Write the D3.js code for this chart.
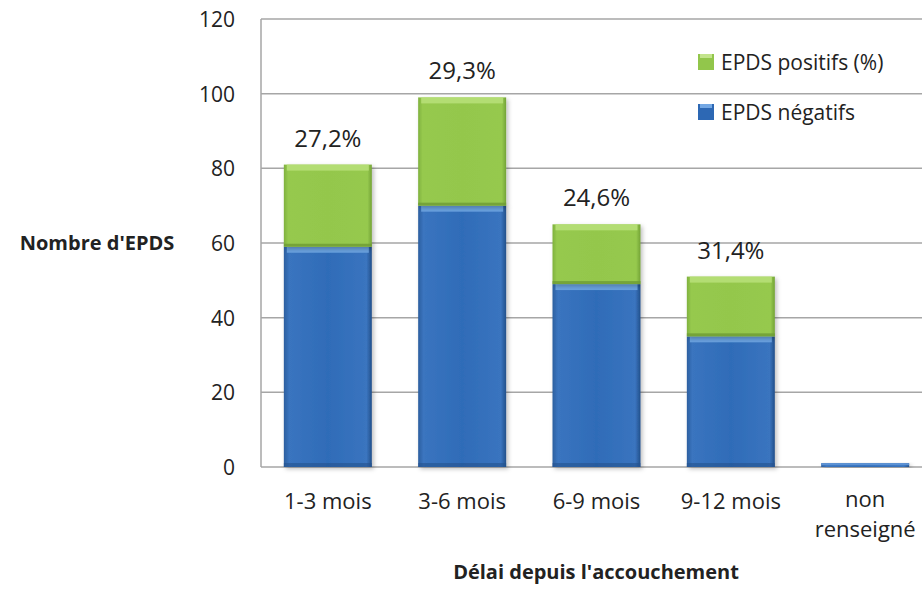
<!DOCTYPE html>
<html><head><meta charset="utf-8">
<script src="https://cdn.jsdelivr.net/npm/d3@7/dist/d3.min.js"></script>
<style>body{margin:0;background:#fff}svg{display:block}text{font-family:"Open Sans",sans-serif;fill:#222}</style>
</head><body><svg id="c" width="922" height="589"></svg>
<script>
const categories = ["1-3 mois","3-6 mois","6-9 mois","9-12 mois","non renseigné"];
const negatifs = [59,70,49,35,1];
const positifs = [22,29,16,16,0];
const pctLabels = ["27,2%","29,3%","24,6%","31,4%",""];
const yTicks = [0,20,40,60,80,100,120];

const svg = d3.select("#c");
const pLeft = 261, pTop = 19, pBottom = 467, plotW = 671;
const x = d3.scaleBand().domain(categories).range([pLeft, pLeft+plotW]).paddingInner(0.345).paddingOuter(0.17);
const y = d3.scaleLinear().domain([0,120]).range([pBottom, pTop]);

const defs = svg.append("defs");
function hgrad(id, stops){
  const g = defs.append("linearGradient").attr("id",id).attr("x1","0").attr("x2","1").attr("y1","0").attr("y2","0");
  stops.forEach(s=>g.append("stop").attr("offset",s[0]).attr("stop-color",s[1]));
}
hgrad("gBlue",[[0,"#2c5f9f"],[0.06,"#3a74bf"],[0.5,"#2f6cb8"],[0.94,"#3a74bf"],[1,"#22508a"]]);
hgrad("gGreen",[[0,"#7fb13d"],[0.05,"#96c94e"],[0.5,"#94c74c"],[0.95,"#96c94e"],[1,"#73a336"]]);
const sh = defs.append("filter").attr("id","sh").attr("x","-10%").attr("y","-10%").attr("width","130%").attr("height","130%");
sh.append("feDropShadow").attr("dx",2).attr("dy",2).attr("stdDeviation",2).attr("flood-color","#000").attr("flood-opacity",0.25);

// gridlines
svg.append("g").selectAll("line").data(yTicks).join("line")
  .attr("x1",pLeft).attr("x2",pLeft+plotW).attr("y1",d=>y(d)).attr("y2",d=>y(d))
  .attr("stroke","#a6a6a6").attr("stroke-width",1.5);
svg.append("line").attr("x1",pLeft).attr("x2",pLeft).attr("y1",pTop).attr("y2",pBottom).attr("stroke","#a6a6a6").attr("stroke-width",1.5);

// y axis
const yAxis = d3.axisLeft(y).tickValues(yTicks).tickSize(0).tickPadding(26);
const ya = svg.append("g").attr("transform",`translate(${pLeft},0)`).call(yAxis);
ya.select(".domain").remove();
ya.selectAll("text").style("font-size","21px").style("font-family","Open Sans").attr("fill","#222").attr("dy","0.36em");

// x axis
const xa = svg.append("g").attr("transform",`translate(0,${pBottom})`).call(d3.axisBottom(x).tickSize(0).tickPadding(0));
xa.select(".domain").remove();
xa.selectAll("text").remove();
xa.selectAll(".tick").each(function(d){
  if(d==="non renseigné"){
    d3.select(this).append("text").attr("text-anchor","middle").style("font-size","22px").attr("fill","#222").attr("y",40).text("non");
    d3.select(this).append("text").attr("text-anchor","middle").style("font-size","22px").attr("fill","#222").attr("y",70).text("renseigné");
  } else {
    d3.select(this).append("text").attr("text-anchor","middle").style("font-size","22px").attr("fill","#222").attr("y",42).text(d);
  }
});

// bars
const bw = x.bandwidth();
const g = svg.append("g");
categories.forEach((c,i)=>{
  const x0 = x(c);
  const gb = g.append("g").attr("filter","url(#sh)");
  const yb = y(negatifs[i]);
  gb.append("rect").attr("x",x0).attr("y",yb).attr("width",bw).attr("height",pBottom-yb).attr("fill","url(#gBlue)");
  if(negatifs[i]>3){
    gb.append("rect").attr("x",x0+3).attr("y",yb).attr("width",bw-6).attr("height",6).attr("fill","#6fa6e2").attr("opacity",0.9);
    gb.append("rect").attr("x",x0).attr("y",pBottom-4).attr("width",bw).attr("height",4).attr("fill","#24528e").attr("opacity",0.6);
  } else {
    gb.append("rect").attr("x",x0).attr("y",yb).attr("width",bw).attr("height",2).attr("fill","#5b92d4");
  }
  if(positifs[i]>0){
    const yt = y(negatifs[i]+positifs[i]);
    const gg = g.append("g").attr("filter","url(#sh)");
    gg.append("rect").attr("x",x0).attr("y",yt).attr("width",bw).attr("height",yb-yt).attr("fill","url(#gGreen)");
    gg.append("rect").attr("x",x0+3).attr("y",yt).attr("width",bw-6).attr("height",6).attr("fill","#b9e07a").attr("opacity",0.85);
    gg.append("rect").attr("x",x0).attr("y",yb-3).attr("width",bw).attr("height",3).attr("fill","#6d9b35").attr("opacity",0.8);
    svg.append("text").attr("x",x0+bw/2).attr("y",yt-18).attr("text-anchor","middle")
      .style("font-size","24px").text(pctLabels[i]);
  }
});

// legend
const legend = [["EPDS positifs (%)","#92c64b","#c3e48c"],["EPDS négatifs","#2d68b4","#74a8e4"]];
legend.forEach((l,i)=>{
  const ly = 62 + i*50;
  svg.append("rect").attr("x",698).attr("y",ly-8).attr("width",16).attr("height",16).attr("fill",l[1]);
  svg.append("rect").attr("x",700).attr("y",ly-8).attr("width",12).attr("height",4).attr("fill",l[2]);
  svg.append("text").attr("x",721).attr("y",ly+8).style("font-size","21px").text(l[0]);
});

// axis titles
svg.append("text").attr("x",97).attr("y",250).attr("text-anchor","middle").style("font-size","20px").style("font-weight","bold").text("Nombre d'EPDS");
svg.append("text").attr("x",596).attr("y",579).attr("text-anchor","middle").style("font-size","20px").style("font-weight","bold").text("Délai depuis l'accouchement");
</script></body></html>
